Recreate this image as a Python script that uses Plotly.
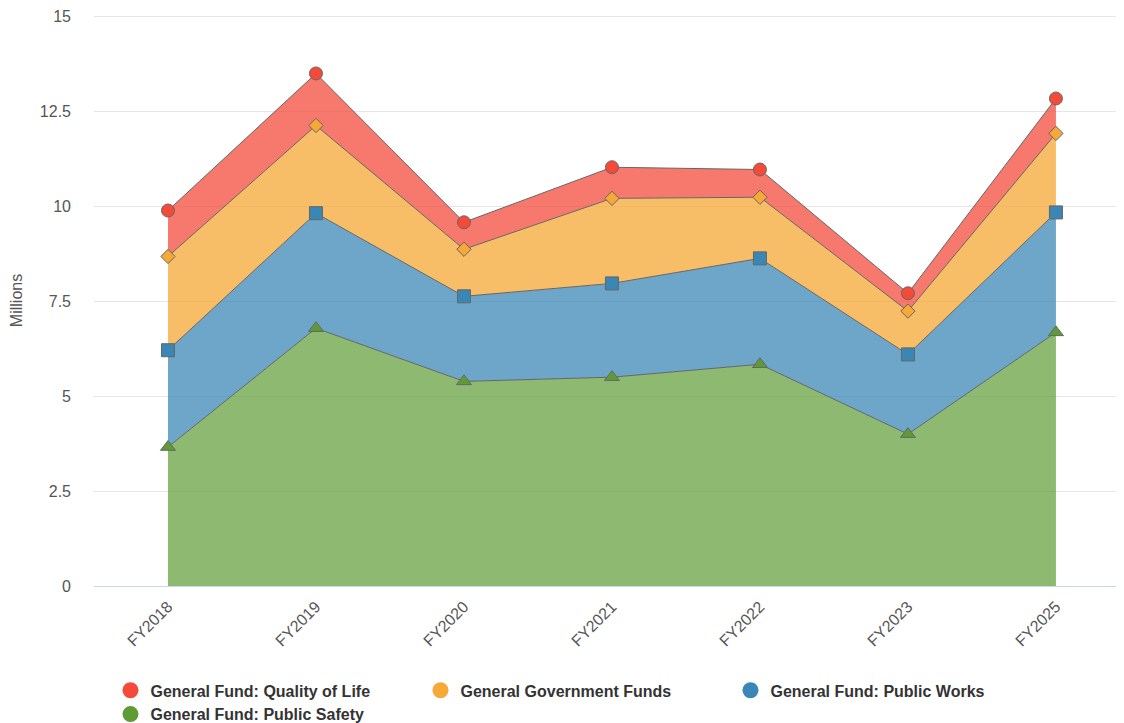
import plotly.graph_objects as go

categories = ["FY2018", "FY2019", "FY2020", "FY2021", "FY2022", "FY2023", "FY2025"]
public_safety = [3.66, 6.79, 5.39, 5.50, 5.84, 4.00, 6.68]
public_works = [2.55, 3.03, 2.24, 2.47, 2.79, 2.10, 3.16]
general_government = [2.47, 2.31, 1.24, 2.24, 1.61, 1.14, 2.08]
quality_of_life = [1.21, 1.37, 0.71, 0.82, 0.73, 0.47, 0.92]
y_ticks = [0, 2.5, 5, 7.5, 10, 12.5, 15]
y_tick_labels = ["0", "2.5", "5", "7.5", "10", "12.5", "15"]

series = [
    ("General Fund: Public Safety", public_safety, "#5e9b35", "rgba(94,155,53,0.7)", "triangle-up", 13),
    ("General Fund: Public Works", public_works, "#3a87b5", "rgba(58,135,181,0.74)", "square", 13),
    ("General Government Funds", general_government, "#f7a937", "rgba(245,169,55,0.76)", "diamond", 11),
    ("General Fund: Quality of Life", quality_of_life, "#f44a3a", "rgba(244,74,58,0.74)", "circle", 13),
]

fig = go.Figure()
for name, vals, mcol, fcol, sym, sz in series:
    fig.add_trace(go.Scatter(
        x=categories, y=vals, name=name, stackgroup="one", mode="lines+markers",
        line=dict(color="#666666", width=1), fillcolor=fcol,
        marker=dict(symbol=sym, size=sz, color=mcol, line=dict(color="#666666", width=1)),
        showlegend=False,
    ))

for name, vals, mcol, fcol, sym, sz in reversed(series):
    fig.add_trace(go.Scatter(
        x=[None], y=[None], name=name, mode="markers",
        marker=dict(symbol="circle", size=16, color=mcol),
        showlegend=True,
    ))

fig.update_layout(
    width=1116, height=715,
    margin=dict(l=86, r=0, t=7, b=137, autoexpand=False),
    paper_bgcolor="white", plot_bgcolor="white",
    font=dict(family="Liberation Sans, Arial, sans-serif", color="#555555", size=16),
    showlegend=True,
    legend=dict(
        orientation="h", traceorder="normal",
        x=0.016, xanchor="left", y=-0.153, yanchor="top",
        entrywidth=265, entrywidthmode="pixels",
        font=dict(size=16, color="#333333", family="Liberation Sans, Arial, sans-serif", weight="bold"),
        itemsizing="trace", tracegroupgap=0,
    ),
    xaxis=dict(
        type="category", categoryorder="array", categoryarray=categories,
        range=[-0.5, 6.46], tickangle=-45, showgrid=False,
        showline=True, linecolor="#ccd6eb", linewidth=1, ticks="",
        tickfont=dict(size=16, color="#555555"), ticklabelstandoff=4,
    ),
    yaxis=dict(
        range=[0, 15.04], tickvals=y_ticks, ticktext=y_tick_labels,
        showgrid=True, gridcolor="#e6e6e6", gridwidth=1, zeroline=False,
        showline=False, ticks="", tickfont=dict(size=16, color="#555555"),
        ticklabelstandoff=22, ticklabeloverflow="allow",
        title=dict(text="Millions", font=dict(size=16, color="#555555"), standoff=13),
    ),
)

fig.write_html("out.html")
